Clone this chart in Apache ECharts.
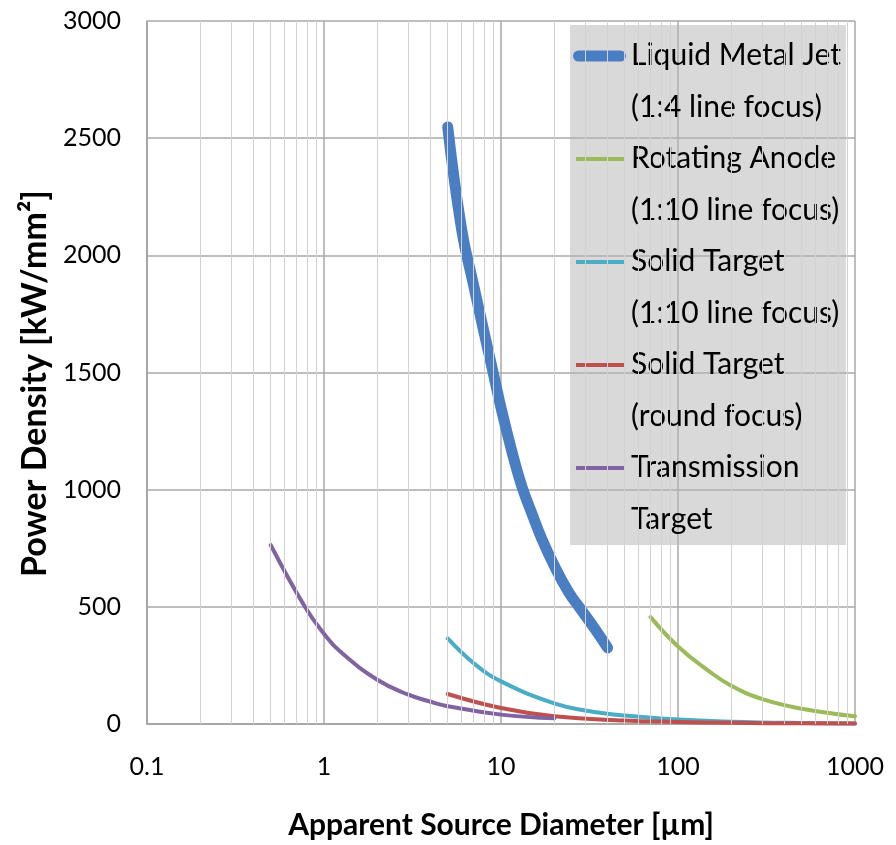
<!DOCTYPE html>
<html>
<head>
<meta charset="utf-8">
<script src="https://cdn.jsdelivr.net/npm/echarts@6/dist/echarts.min.js"></script>
<style>
html, body { margin: 0; padding: 0; background: #fff; }
#chart { width: 896px; height: 845px; }
</style>
</head>
<body>
<div id="chart"></div>
<script>
// values: x = diameter [um], y = power density [kW/mm2]
var lmjX = [5, 6, 7, 8, 9, 10, 11.5, 13.1, 15, 17, 20, 24, 27.9, 34, 40];
var lmjY = [2548, 2108, 1873, 1675, 1504, 1350, 1165, 1015, 895, 790, 675, 565, 495, 405, 325];

var raX = [70, 100, 150, 200, 300, 500, 1000];
var raY = [456, 331, 225, 163, 106, 65, 33];

var stLineX = [5, 7, 10, 20, 30, 50, 100, 200, 500, 1000];
var stLineY = [365, 260, 182, 88, 58, 36, 19, 10, 4, 2];

var stRoundX = [5, 10, 20, 50, 100, 200, 500, 1000];
var stRoundY = [128, 68, 33, 15, 9, 5, 3, 2];

var ttX = [0.5, 0.78, 1, 1.23, 2, 3, 4, 5, 10, 20];
var ttY = [764, 500, 385, 310, 189, 125, 95, 76, 40, 24];

var seriesNames = [
	"Liquid Metal Jet\n(1:4 line focus)",
	"Rotating Anode\n(1:10 line focus)",
	"Solid Target\n(1:10 line focus)",
	"Solid Target\n(round focus)",
	"Transmission\nTarget"
];
var seriesColors = ["#4a7ec2", "#9bbb59", "#4bacc6", "#c0504d", "#8064a2"];
var seriesWidths = [11, 4, 4, 4, 4];

var minorTicks = [0.2, 0.3, 0.4, 0.5, 0.6, 0.7, 0.8, 0.9,
	2, 3, 4, 5, 6, 7, 8, 9,
	20, 30, 40, 50, 60, 70, 80, 90,
	200, 300, 400, 500, 600, 700, 800, 900];

var FONT = "Lato";

function pairs(xs, ys) {
	var out = [], i;
	for (i = 0; i < xs.length; i++)
		out.push([xs[i], ys[i]]);
	return out;
}

var allData = [
	pairs(lmjX, lmjY),
	pairs(raX, raY),
	pairs(stLineX, stLineY),
	pairs(stRoundX, stRoundY),
	pairs(ttX, ttY)
];

// legend icons: bar on the first text line, invisible corner points keep the box size
var thickIcon = "path://M0,0h0.01v0.01h-0.01zM0,103h0.01v0.01h-0.01zM5.5,20.5h42a5.5,5.5 0 0 1 0,11h-42a5.5,5.5 0 0 1 0,-11z";
var thinIcon = "path://M0,0h0.01v0.01h-0.01zM0,103h0.01v0.01h-0.01zM2,24h49v4h-49z";

var series = [{
	name: "minor",
	type: "line",
	data: [],
	silent: true,
	z: 1,
	markLine: {
		silent: true,
		symbol: "none",
		label: { show: false },
		animation: false,
		lineStyle: { color: "#d2d2d2", width: 1, type: "solid" },
		data: minorTicks.map(function(v) { return { xAxis: v }; })
	}
}];

var legendData = [];

seriesNames.forEach(function(name, i) {
	series.push({
		name: name,
		type: "line",
		data: allData[i],
		smooth: 0.45,
		showSymbol: false,
		z: 3,
		itemStyle: { color: seriesColors[i] },
		lineStyle: { color: seriesColors[i], width: seriesWidths[i], cap: "round", join: "round" }
	});
	legendData.push({ name: name, icon: i === 0 ? thickIcon : thinIcon });
});

var option = {
	animation: false,
	grid: { left: 147, right: 41, top: 21, bottom: 121 },
	legend: {
		orient: "vertical",
		left: 570,
		top: 25,
		itemGap: 0,
		itemWidth: 53,
		itemHeight: 103,
		padding: [5, 5, 0, 3],
		backgroundColor: "rgba(180,180,180,0.5)",
		itemStyle: { borderWidth: 0 },
		selectedMode: false,
		data: legendData,
		textStyle: {
			fontFamily: FONT,
			fontSize: 30,
			lineHeight: 51.5,
			color: "#000"
		}
	},
	xAxis: {
		type: "log",
		logBase: 10,
		min: 0.1,
		max: 1000,
		name: "Apparent Source Diameter [\u00b5m]",
		nameLocation: "middle",
		nameGap: 86,
		nameTextStyle: { fontFamily: FONT, fontSize: 30, fontWeight: "bold", color: "#000" },
		axisLine: { lineStyle: { color: "#a0a0a0", width: 1.5 } },
		axisTick: { show: false },
		axisLabel: {
			margin: 30,
			fontFamily: FONT,
			fontSize: 25,
			color: "#000",
			formatter: function(v) { return String(v); }
		},
		splitLine: { show: true, lineStyle: { color: "#a8a8a8", width: 1.5 } }
	},
	yAxis: {
		type: "value",
		min: 0,
		max: 3000,
		interval: 500,
		name: "Power Density [kW/mm\u00b2]",
		nameLocation: "middle",
		nameGap: 94,
		nameTextStyle: {
			fontFamily: FONT,
			fontSize: 34,
			fontWeight: "bold",
			color: "#000",
			padding: [0, 22, 0, 0]
		},
		axisLine: { show: true, lineStyle: { color: "#a0a0a0", width: 1.5 } },
		axisTick: { show: false },
		axisLabel: {
			margin: 26,
			fontFamily: FONT,
			fontSize: 25,
			color: "#000",
			formatter: function(v) { return String(v); }
		},
		splitLine: { show: true, lineStyle: { color: "#a8a8a8", width: 1.5 } }
	},
	series: series
};

var chart = echarts.init(document.getElementById("chart"), null, { renderer: "canvas" });
chart.setOption(option);
</script>
</body>
</html>
